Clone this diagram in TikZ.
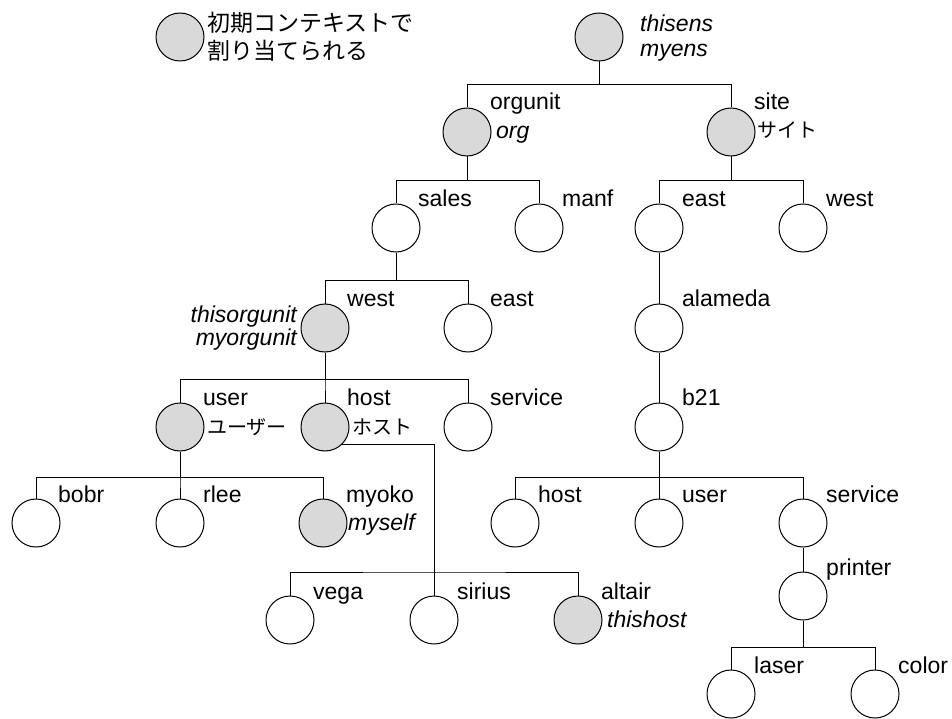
\documentclass[tikz,border=0pt]{standalone}
\usepackage{fontspec}
\setmainfont{Liberation Sans}
\newfontfamily\jpfont{Noto Sans CJK JP}
\definecolor{initgray}{gray}{0.85}
\tikzset{
  ctx/.style={circle, draw=black, line width=1pt, fill=white, minimum size=48pt, inner sep=0pt},
  initctx/.style={ctx, fill=initgray},
  nm/.style={anchor=base west, inner sep=0pt, font=\fontsize{23}{28}\selectfont},
  alias/.style={nm, font=\fontsize{23}{28}\selectfont\itshape},
  jpname/.style={anchor=west, inner sep=0pt, font=\fontsize{20}{24}\selectfont\jpfont},
  fork/.style={line width=1pt, to path={(\tikztostart) -- ++(0,-#1) -| (\tikztotarget)}},
}

\begin{document}
\begin{tikzpicture}[x=1pt,y=1pt]
\useasboundingbox (0,0) rectangle (952,-719);
\node[initctx] (legend) at (180,-37) {};
\node[anchor=west, inner sep=0pt, align=left, font=\fontsize{23}{28}\selectfont\jpfont] (legendtxt) at (207,-37) {初期コンテキストで\\割り当てられる};

\node[initctx] (root) at (599,-37) {};
\node[alias] (thisens) at (640,-32) {thisens};
\node[alias] (myens) at (640,-57) {myens};

\node[initctx] (orgunit) at (467,-132) {};
\node[nm] (orgunitn) at (490,-110) {orgunit};
\node[alias] (org) at (496,-139) {org};
\node[initctx] (site) at (731,-132) {};
\node[nm] (siten) at (754,-110) {site};
\node[jpname] (sitejp) at (757,-130) {サイト};

\node[ctx] (sales) at (396,-228) {};
\node[nm] (salesn) at (418,-207) {sales};
\node[ctx] (manf) at (539,-228) {};
\node[nm] (manfn) at (562,-207) {manf};
\node[ctx] (seast) at (659,-228) {};
\node[nm] (seastn) at (682,-207) {east};
\node[ctx] (swest) at (803,-228) {};
\node[nm] (swestn) at (826,-207) {west};

\node[initctx] (owest) at (325,-328) {};
\node[nm] (owestn) at (347,-306) {west};
\node[alias, anchor=base east] (thisorgunit) at (297,-322) {thisorgunit};
\node[alias, anchor=base east] (myorgunit) at (297,-345) {myorgunit};
\node[ctx] (oeast) at (468,-328) {};
\node[nm] (oeastn) at (490,-306) {east};
\node[ctx] (alameda) at (659,-328) {};
\node[nm] (alamedan) at (682,-306) {alameda};

\node[initctx] (user) at (180,-427) {};
\node[nm] (usern) at (203,-405) {user};
\node[jpname] (userjp) at (207,-427) {ユーザー};
\node[initctx] (host) at (325,-427) {};
\node[nm] (hostn) at (347,-405) {host};
\node[jpname] (hostjp) at (352,-427) {ホスト};
\node[ctx] (service) at (468,-427) {};
\node[nm] (servicen) at (490,-405) {service};
\node[ctx] (b21) at (659,-427) {};
\node[nm] (b21n) at (682,-405) {b21};

\node[ctx] (bobr) at (36,-523) {};
\node[nm] (bobrn) at (58,-502) {bobr};
\node[ctx] (rlee) at (180,-523) {};
\node[nm] (rleen) at (203,-502) {rlee};
\node[initctx] (myoko) at (323,-523) {};
\node[nm] (myokon) at (346,-502) {myoko};
\node[alias] (myself) at (348,-530) {myself};
\node[ctx] (bhost) at (515,-523) {};
\node[nm] (bhostn) at (538,-502) {host};
\node[ctx] (buser) at (659,-523) {};
\node[nm] (busern) at (682,-502) {user};
\node[ctx] (bservice) at (803,-523) {};
\node[nm] (bservicen) at (826,-502) {service};

\node[ctx] (printer) at (803,-596) {};
\node[nm] (printern) at (826,-575) {printer};

\node[ctx] (vega) at (290,-620) {};
\node[nm] (vegan) at (313,-599) {vega};
\node[ctx] (sirius) at (434,-620) {};
\node[nm] (siriusn) at (457,-599) {sirius};
\node[initctx] (altair) at (578,-620) {};
\node[nm] (altairn) at (601,-599) {altair};
\node[alias] (thishost) at (607,-627) {thishost};

\node[ctx] (laser) at (731,-694) {};
\node[nm] (lasern) at (754,-673) {laser};
\node[ctx] (color) at (875,-694) {};
\node[nm] (colorn) at (898,-673) {color};

\draw[fork=23] (root.south) to (orgunit.north);
\draw[fork=23] (root.south) to (site.north);
\draw[fork=24] (orgunit.south) to (sales.north);
\draw[fork=24] (orgunit.south) to (manf.north);
\draw[fork=24] (site.south) to (seast.north);
\draw[fork=24] (site.south) to (swest.north);
\draw[fork=28] (sales.south) to (owest.north);
\draw[fork=28] (sales.south) to (oeast.north);
\draw[fork=27] (owest.south) to (user.north);
\draw[fork=27] (owest.south) to (host.north);
\draw[fork=27] (owest.south) to (service.north);
\draw[fork=26] (user.south) to (bobr.north);
\draw[fork=26] (user.south) to (rlee.north);
\draw[fork=26] (user.south) to (myoko.north);
\draw[line width=1pt] (seast.south) -- (alameda.north);
\draw[line width=1pt] (alameda.south) -- (b21.north);
\draw[fork=26] (b21.south) to (bhost.north);
\draw[fork=26] (b21.south) to (buser.north);
\draw[fork=26] (b21.south) to (bservice.north);
\draw[line width=1pt] (bservice.south) -- (printer.north);
\draw[fork=27] (printer.south) to (laser.north);
\draw[fork=27] (printer.south) to (color.north);
\coordinate (hostbar) at (434,-572);
\draw[line width=1pt] (host.-45) -| (sirius.north);
\draw[line width=1pt] (vega.north) |- (hostbar) -| (altair.north);
\end{tikzpicture}
\end{document}
